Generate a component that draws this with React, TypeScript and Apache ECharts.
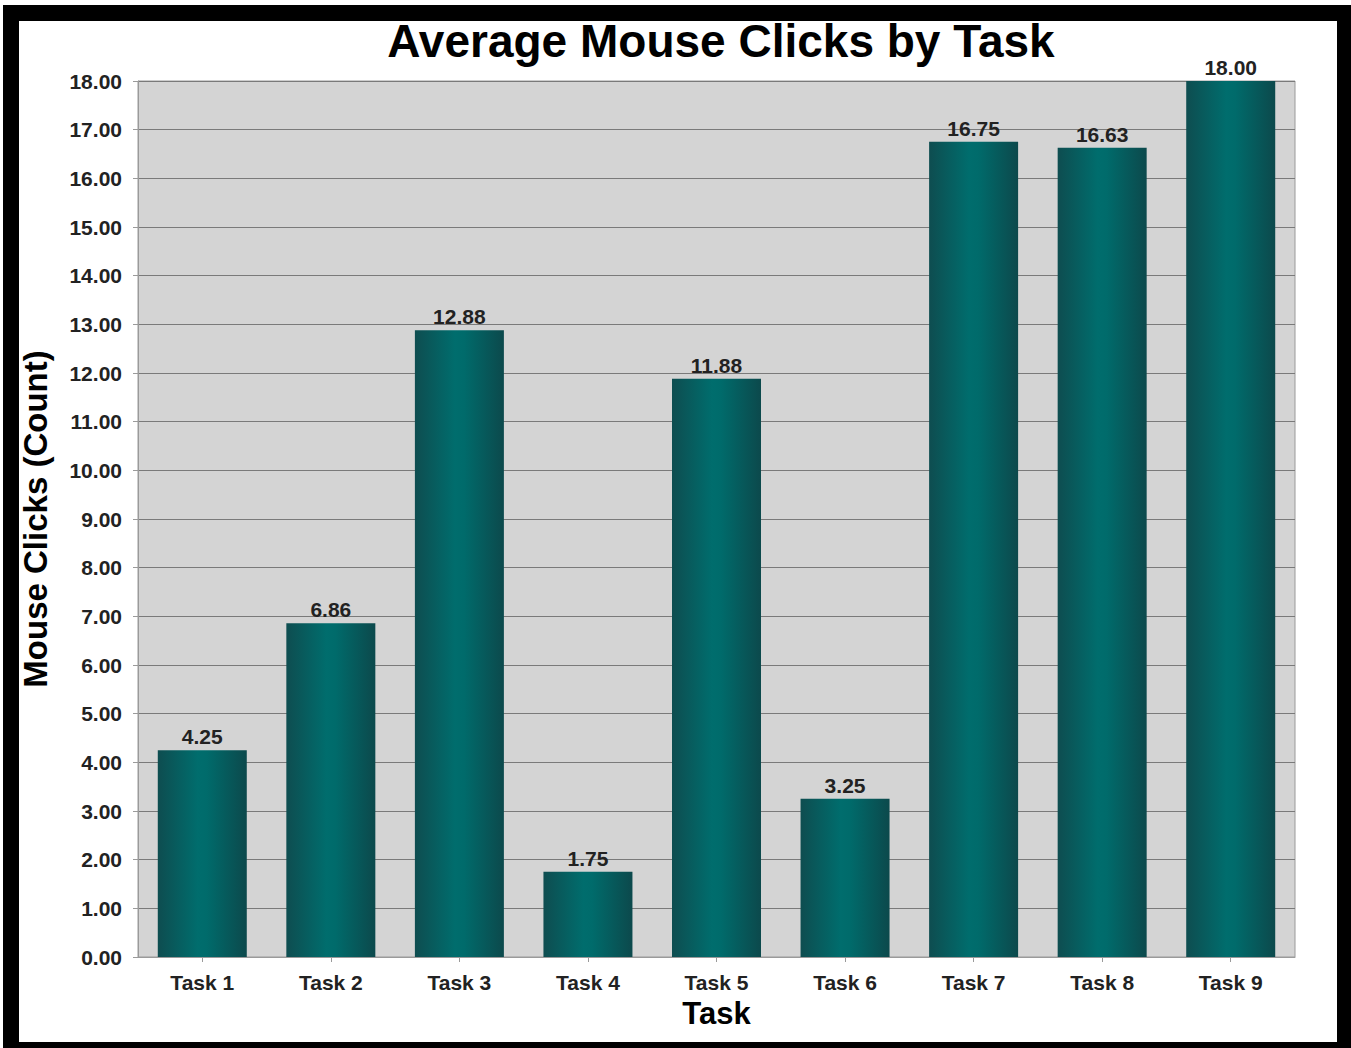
import React, { useEffect, useRef } from "react";
import * as echarts from "echarts";

const categories = ["Task 1", "Task 2", "Task 3", "Task 4", "Task 5", "Task 6", "Task 7", "Task 8", "Task 9"];
const clicks = [4.25, 6.86, 12.88, 1.75, 11.88, 3.25, 16.75, 16.63, 18.0];
const titleText = "Average Mouse Clicks by Task";
const yName = "Mouse Clicks (Count)";
const xName = "Task";

const W = 1351;
const H = 1048;
const FONT = "'Liberation Sans', Arial, sans-serif";

export default function App() {
  const ref = useRef<HTMLDivElement>(null);
  useEffect(() => {
    document.body.style.margin = "0";
    const chart = echarts.init(ref.current!, undefined, { renderer: "svg" });
    const barGrad = new echarts.graphic.LinearGradient(0, 0, 1, 0, [
      { offset: 0, color: "#0e4d50" },
      { offset: 0.45, color: "#006d6d" },
      { offset: 0.55, color: "#006b6b" },
      { offset: 1, color: "#0c494c" },
    ]);
    chart.setOption({
      animation: false,
      backgroundColor: "#ffffff",
      graphic: [
        { type: "rect", z: 100, shape: { x: 3, y: 5, width: W - 3, height: 16 }, style: { fill: "#000" } },
        { type: "rect", z: 100, shape: { x: 3, y: 5, width: 16, height: H - 5 }, style: { fill: "#000" } },
        { type: "rect", z: 100, shape: { x: 1337, y: 5, width: W - 1337, height: H - 5 }, style: { fill: "#000" } },
        { type: "rect", z: 100, shape: { x: 3, y: 1042, width: W - 3, height: H - 1042 }, style: { fill: "#000" } },
      ],
      title: {
        text: titleText,
        left: 716,
        top: 13,
        textAlign: "center",
        textStyle: { fontFamily: FONT, fontSize: 46, fontWeight: "bold", color: "#000" },
      },
      grid: {
        left: 138,
        top: 81,
        right: W - 1295,
        bottom: H - 957,
        show: true,
        backgroundColor: "#d4d4d4",
        borderColor: "#9a9a9a",
        borderWidth: 1,
      },
      xAxis: {
        type: "category",
        data: categories,
        name: xName,
        nameLocation: "middle",
        nameGap: 40,
        nameTextStyle: { fontFamily: FONT, fontSize: 31, fontWeight: "bold", color: "#000" },
        axisLine: { show: true, lineStyle: { color: "#9a9a9a" } },
        axisTick: { show: true, alignWithLabel: true, length: 5, lineStyle: { color: "#9a9a9a" } },
        axisLabel: { fontFamily: FONT, fontSize: 21, fontWeight: "bold", color: "#222", margin: 15 },
      },
      yAxis: {
        type: "value",
        min: 0,
        max: 18,
        interval: 1,
        name: yName,
        nameLocation: "middle",
        nameGap: 86,
        nameRotate: 90,
        nameTextStyle: { fontFamily: FONT, fontSize: 33, fontWeight: "bold", color: "#000" },
        axisLine: { show: true, lineStyle: { color: "#9a9a9a" } },
        axisTick: { show: true, length: 5, lineStyle: { color: "#9a9a9a" } },
        axisLabel: {
          fontFamily: FONT,
          fontSize: 21,
          fontWeight: "bold",
          color: "#222",
          margin: 16,
          formatter: (v: number) => v.toFixed(2),
        },
        splitLine: { show: true, lineStyle: { color: "#7a7a7a", width: 1 } },
      },
      series: [
        {
          type: "bar",
          data: clicks,
          barWidth: 89,
          itemStyle: { color: barGrad },
          label: {
            show: true,
            position: "top",
            distance: 3,
            fontFamily: FONT,
            fontSize: 21,
            fontWeight: "bold",
            color: "#222",
            formatter: (p: any) => Number(p.value).toFixed(2),
          },
        },
      ],
    });
    return () => chart.dispose();
  }, []);
  return (
    <div style={{ position: "absolute", left: 0, top: 0, width: W, height: H }}>
      <div ref={ref} style={{ width: W, height: H }} />
    </div>
  );
}
